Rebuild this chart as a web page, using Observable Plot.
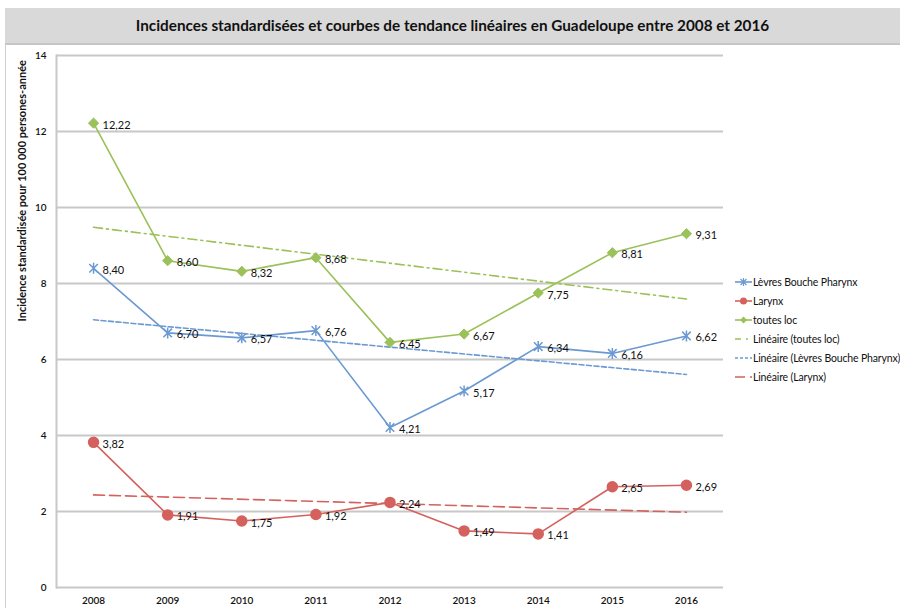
<!DOCTYPE html>
<html><head><meta charset="utf-8">
<script src="https://cdn.jsdelivr.net/npm/d3@7"></script>
<script src="https://cdn.jsdelivr.net/npm/@observablehq/plot@0.6"></script>
<style>
body{margin:0;background:#fff;font-family:Lato,"Open Sans",sans-serif;}
#wrap{position:relative;width:900px;height:608px;overflow:hidden;background:#fff}
#title{position:absolute;left:5px;top:8px;width:895px;height:35px;background:#d9d9d9;border-bottom:2px solid #c6c6c6;text-align:center;font-weight:bold;font-size:15.3px;line-height:35px;color:#111}
#panel{position:absolute;left:5px;top:45px;width:894px;height:563px;border-left:1px solid #d0d0d0}
#chart{position:absolute;left:0;top:44px}
#legend{position:absolute;left:735px;top:272px;font-size:10.5px;letter-spacing:-0.15px;color:#111}
#legend .row{display:flex;align-items:center;height:19.1px;white-space:nowrap}
#legend svg{margin-right:1px;overflow:visible;flex:none}
</style></head>
<body>
<div id="wrap">
  <div id="title">Incidences standardisées et courbes de tendance linéaires en Guadeloupe entre 2008 et 2016</div>
  <div id="panel"></div>
  <div id="chart"></div>
  <div id="legend"></div>
</div>
<script>
const years = [2008, 2009, 2010, 2011, 2012, 2013, 2014, 2015, 2016];
const levres = [8.40, 6.70, 6.57, 6.76, 4.21, 5.17, 6.34, 6.16, 6.62];
const larynx = [3.82, 1.91, 1.75, 1.92, 2.24, 1.49, 1.41, 2.65, 2.69];
const toutes = [12.22, 8.60, 8.32, 8.68, 6.45, 6.67, 7.75, 8.81, 9.31];
const seriesNames = ["Lèvres Bouche Pharynx", "Larynx", "toutes loc"];
const trendNames = ["Linéaire (toutes loc)", "Linéaire (Lèvres Bouche Pharynx)", "Linéaire (Larynx)"];
const yTicks = [0, 2, 4, 6, 8, 10, 12, 14];
const yLabel = "Incidence standardisée pour 100 000 persones-année";

const colors = {"Lèvres Bouche Pharynx": "#6b99d1", "Larynx": "#d4615d", "toutes loc": "#9bc15a"};
const dashes = {"toutes loc": "9,4,2,4", "Lèvres Bouche Pharynx": "5,2.5", "Larynx": "11,5"};

const seriesValues = [levres, larynx, toutes];
const rows = [];
seriesNames.forEach((s, i) => years.forEach((y, j) => rows.push({serie: s, year: y, value: seriesValues[i][j]})));
const fmt = v => v.toFixed(2).replace(".", ",");

// Excel-like star marker: X plus vertical bar
const star = {
  draw(context, size) {
    const r = Math.sqrt(size / Math.PI);
    const d = r * 0.78;
    context.moveTo(-d, -d); context.lineTo(d, d);
    context.moveTo(d, -d); context.lineTo(-d, d);
    context.moveTo(0, -r); context.lineTo(0, r);
  }
};

const bySerie = s => rows.filter(d => d.serie === s);

const chart = Plot.plot({
  width: 900,
  height: 564,
  marginLeft: 56,
  marginRight: 177,
  marginTop: 11,
  marginBottom: 21,
  style: {fontFamily: "Lato, 'Open Sans', sans-serif", fontSize: "10px", color: "#111", background: "transparent"},
  x: {domain: [2007.5, 2016.5]},
  y: {domain: [0, 14]},
  marks: [
    Plot.ruleY(yTicks, {stroke: "#c8c8c8", strokeWidth: 2}),
    Plot.frame({anchor: "left", stroke: "#c8c8c8", strokeWidth: 2}),
    Plot.axisX({ticks: years, tickFormat: d => String(d), tickSize: 0, tickPadding: 9, label: null, fontSize: 10, fontWeight: 600}),
    Plot.axisY({ticks: yTicks, tickSize: 0, tickPadding: 10, label: null, fontSize: 10, fontWeight: 600}),
    Plot.text([yLabel], {frameAnchor: "left", text: d => d, rotate: -90, dx: -34, fontWeight: "bold", fontSize: 11, fill: "#111"}),
    ...seriesNames.map(s => Plot.linearRegressionY(bySerie(s), {x: "year", y: "value", ci: 0, stroke: colors[s], strokeWidth: 1.6, strokeDasharray: dashes[s]})),
    ...seriesNames.map(s => Plot.line(bySerie(s), {x: "year", y: "value", stroke: colors[s], strokeWidth: 1.6})),
    Plot.dot(bySerie("Lèvres Bouche Pharynx"), {x: "year", y: "value", symbol: star, r: 5.5, stroke: colors["Lèvres Bouche Pharynx"], fill: "none", strokeWidth: 1.5}),
    Plot.dot(bySerie("Larynx"), {x: "year", y: "value", symbol: "circle", r: 5, fill: colors["Larynx"], stroke: colors["Larynx"]}),
    Plot.dot(bySerie("toutes loc"), {x: "year", y: "value", symbol: "diamond2", r: 4.6, fill: colors["toutes loc"], stroke: colors["toutes loc"], strokeWidth: 1}),
    Plot.text(rows, {x: "year", y: "value", text: d => fmt(d.value), dx: 9, dy: 2, textAnchor: "start", fontSize: 11, fill: "#111"})
  ]
});
document.getElementById("chart").appendChild(chart);

// Legend
const legendItems = [
  {name: seriesNames[0], color: colors[seriesNames[0]], dash: null, marker: "star"},
  {name: seriesNames[1], color: colors[seriesNames[1]], dash: null, marker: "circle"},
  {name: seriesNames[2], color: colors[seriesNames[2]], dash: null, marker: "diamond"},
  {name: trendNames[0], color: colors["toutes loc"], dash: "6,5,2,5", marker: null},
  {name: trendNames[1], color: colors["Lèvres Bouche Pharynx"], dash: "3,2", marker: null},
  {name: trendNames[2], color: colors["Larynx"], dash: "10,5", marker: null}
];
const lg = d3.select("#legend");
legendItems.forEach(it => {
  const row = lg.append("div").attr("class", "row");
  const svg = row.append("svg").attr("width", 17).attr("height", 10);
  svg.append("line").attr("x1", 0).attr("x2", 17).attr("y1", 5).attr("y2", 5)
    .attr("stroke", it.color).attr("stroke-width", 1.6).attr("stroke-dasharray", it.dash);
  if (it.marker === "circle") svg.append("circle").attr("cx", 8.5).attr("cy", 5).attr("r", 3.5).attr("fill", it.color);
  if (it.marker === "diamond") svg.append("path").attr("d", "M8.5,1.5L12,5L8.5,8.5L5,5Z").attr("fill", it.color);
  if (it.marker === "star") svg.append("path").attr("d", "M5.5,2L11.5,8M11.5,2L5.5,8M8.5,1L8.5,9").attr("stroke", it.color).attr("stroke-width", 1.2).attr("fill", "none");
  row.append("span").text(it.name);
});
</script>
</body></html>
